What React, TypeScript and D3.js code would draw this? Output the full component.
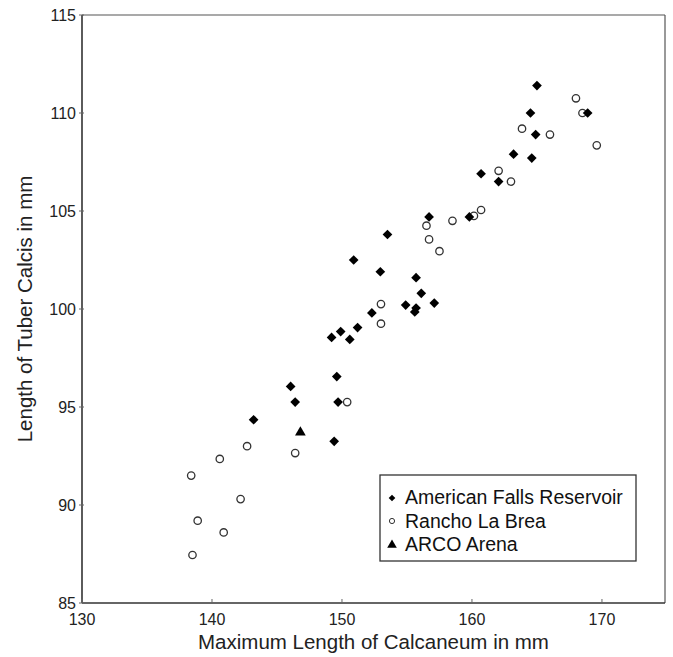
import React from 'react';
import * as d3 from 'd3';

// American Falls Reservoir (filled diamonds)
const afX = [165.0, 164.5, 168.9, 164.9, 163.2, 164.6, 160.7, 162.05, 156.7, 159.8, 153.5, 150.9, 152.95, 155.7, 156.1, 154.9, 157.1, 155.7, 155.6, 152.3, 151.2, 149.9, 150.6, 149.2, 149.6, 146.05, 146.4, 149.7, 143.2, 149.4];
const afY = [111.4, 110.0, 110.0, 108.9, 107.9, 107.7, 106.9, 106.5, 104.7, 104.7, 103.8, 102.5, 101.9, 101.6, 100.8, 100.2, 100.3, 100.05, 99.85, 99.8, 99.05, 98.85, 98.45, 98.55, 96.55, 96.05, 95.25, 95.25, 94.35, 93.25];

// Rancho La Brea (open circles)
const rlbX = [168.0, 168.5, 163.85, 166.0, 169.6, 162.05, 163.0, 160.7, 160.15, 158.5, 156.5, 156.7, 157.5, 153.0, 153.0, 150.4, 146.4, 142.7, 140.6, 138.4, 142.2, 138.9, 140.9, 138.5];
const rlbY = [110.75, 110.0, 109.2, 108.9, 108.35, 107.05, 106.5, 105.05, 104.75, 104.5, 104.25, 103.55, 102.95, 100.25, 99.25, 95.25, 92.65, 93.0, 92.35, 91.5, 90.3, 89.2, 88.6, 87.45];

// ARCO Arena (filled triangle)
const arcoX = [146.8];
const arcoY = [93.7];

const xTicks = [130, 140, 150, 160, 170];
const yTicks = [85, 90, 95, 100, 105, 110, 115];

const legendLabels = ['American Falls Reservoir', 'Rancho La Brea', 'ARCO Arena'];

const W = 673;
const H = 657;
const font = '"Liberation Sans", Arial, Helvetica, sans-serif';

export default function App() {
  const x = d3.scaleLinear().domain([130, 174.85]).range([82, 665]);
  const y = d3.scaleLinear().domain([85, 115]).range([603, 15]);

  const diamond = d3.symbol().type(d3.symbolDiamond2).size(60)() as string;
  const triangle = d3.symbol().type(d3.symbolTriangle).size(50)() as string;
  const diamondSmall = d3.symbol().type(d3.symbolDiamond2).size(28)() as string;
  const triangleSmall = d3.symbol().type(d3.symbolTriangle).size(40)() as string;

  const [x0, x1] = x.range();
  const [y0, y1] = y.range();

  const lx = 380;
  const ly = 475;

  return (
    <svg width={W} height={H} style={{ position: 'absolute', left: 0, top: 0, background: '#fff' }} fontFamily={font}>
      {/* frame */}
      <line x1={x0} x2={x1} y1={y1} y2={y1} stroke="#555" strokeWidth={1.2} />
      <line x1={x1} x2={x1} y1={y1} y2={y0} stroke="#555" strokeWidth={1.2} />
      <line x1={x0} x2={x1} y1={y0} y2={y0} stroke="#333" strokeWidth={1.6} />
      <line x1={x0} x2={x0} y1={y1} y2={y0} stroke="#333" strokeWidth={1.6} />

      {/* x ticks */}
      {xTicks.map((t) => (
        <g key={'xt' + t} transform={`translate(${x(t)},0)`}>
          <line y1={y0 - 4} y2={y0} stroke="#666" strokeWidth={1} />
          <text y={625} textAnchor="middle" fontSize={16} fill="#222">{t}</text>
        </g>
      ))}

      {/* y ticks */}
      {yTicks.map((t) => (
        <g key={'yt' + t} transform={`translate(0,${y(t)})`}>
          <line x1={x0 - 3} x2={x0 + 2} stroke="#666" strokeWidth={1} />
          <text x={76} dy="0.36em" textAnchor="end" fontSize={16} fill="#222">{t}</text>
        </g>
      ))}

      {/* axis titles */}
      <text x={(x0 + x1) / 2} y={649} textAnchor="middle" fontSize={20.5} fill="#222">
        Maximum Length of Calcaneum in mm
      </text>
      <text
        transform={`translate(32,${(y0 + y1) / 2}) rotate(-90)`}
        textAnchor="middle"
        fontSize={20.5}
        fill="#222"
      >
        Length of Tuber Calcis in mm
      </text>

      {/* Rancho La Brea */}
      {rlbX.map((v, i) => (
        <circle key={'r' + i} cx={x(v)} cy={y(rlbY[i])} r={3.7} fill="#fff" stroke="#333" strokeWidth={1.3} />
      ))}

      {/* American Falls Reservoir */}
      {afX.map((v, i) => (
        <path key={'a' + i} d={diamond} transform={`translate(${x(v)},${y(afY[i])})`} fill="#000" />
      ))}

      {/* ARCO Arena */}
      {arcoX.map((v, i) => (
        <path key={'c' + i} d={triangle} transform={`translate(${x(v)},${y(arcoY[i])})`} fill="#000" />
      ))}

      {/* legend */}
      <rect x={lx} y={ly} width={256} height={86} fill="#fff" stroke="#333" strokeWidth={1.3} />
      <path d={diamondSmall} transform={`translate(${lx + 12},${ly + 23})`} fill="#000" />
      <circle cx={lx + 12} cy={ly + 46} r={2.6} fill="#fff" stroke="#333" strokeWidth={1} />
      <path d={triangleSmall} transform={`translate(${lx + 12},${ly + 70})`} fill="#000" />
      {legendLabels.map((l, i) => (
        <text key={l} x={lx + 25} y={ly + 29 + i * 23.5} fontSize={19.5} fill="#111">{l}</text>
      ))}
    </svg>
  );
}
